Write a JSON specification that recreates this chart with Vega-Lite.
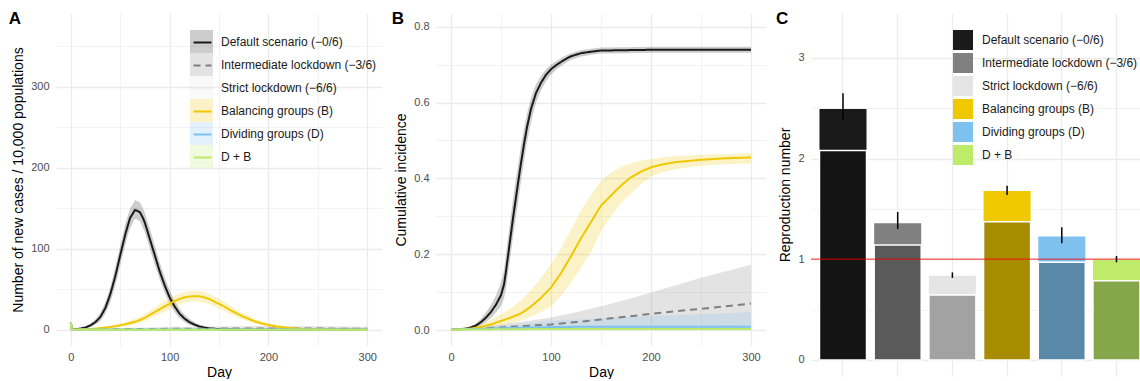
{
"$schema": "https://vega.github.io/schema/vega-lite/v6.json",
"background": "white",
"padding": {"left": 8, "top": 10, "right": 0, "bottom": 0},
"bounds": "flush",
"spacing": 54,
"datasets": {
"a": [
{"s":"def","d":0,"y":9,"lo":8,"hi":10},{"s":"def","d":1,"y":0.5,"lo":0.2,"hi":1},{"s":"def","d":5,"y":0.8,"lo":0.4,"hi":1.5},{"s":"def","d":10,"y":1.5,"lo":0.8,"hi":2.5},{"s":"def","d":15,"y":3,"lo":1.8,"hi":4.5},{"s":"def","d":20,"y":5.5,"lo":3.5,"hi":8},{"s":"def","d":25,"y":9.5,"lo":6.5,"hi":13},{"s":"def","d":30,"y":16,"lo":11,"hi":21},{"s":"def","d":35,"y":27,"lo":20,"hi":34},{"s":"def","d":40,"y":44,"lo":34,"hi":53},{"s":"def","d":45,"y":66,"lo":54,"hi":77},{"s":"def","d":50,"y":92,"lo":79,"hi":104},{"s":"def","d":55,"y":117,"lo":104,"hi":130},{"s":"def","d":58,"y":130,"lo":118,"hi":142},{"s":"def","d":60,"y":138,"lo":125,"hi":150},{"s":"def","d":63,"y":144,"lo":133,"hi":156},{"s":"def","d":65,"y":148,"lo":137,"hi":160},{"s":"def","d":67,"y":147,"lo":136,"hi":159},{"s":"def","d":70,"y":145,"lo":134,"hi":157},{"s":"def","d":73,"y":138,"lo":126,"hi":150},{"s":"def","d":75,"y":132,"lo":120,"hi":144},{"s":"def","d":78,"y":120,"lo":108,"hi":132},{"s":"def","d":80,"y":112,"lo":100,"hi":125},{"s":"def","d":85,"y":92,"lo":80,"hi":104},{"s":"def","d":90,"y":72,"lo":62,"hi":83},{"s":"def","d":95,"y":55,"lo":45,"hi":65},{"s":"def","d":100,"y":40,"lo":32,"hi":49},{"s":"def","d":105,"y":29,"lo":22,"hi":36},{"s":"def","d":110,"y":20,"lo":14.5,"hi":26},{"s":"def","d":115,"y":14,"lo":9.5,"hi":19},{"s":"def","d":120,"y":9.5,"lo":6,"hi":13.5},{"s":"def","d":125,"y":6.5,"lo":4,"hi":9.5},{"s":"def","d":130,"y":4.2,"lo":2.5,"hi":6.5},{"s":"def","d":135,"y":2.8,"lo":1.5,"hi":4.5},{"s":"def","d":140,"y":1.8,"lo":0.8,"hi":3},{"s":"def","d":145,"y":1.2,"lo":0.5,"hi":2.2},{"s":"def","d":150,"y":0.8,"lo":0.3,"hi":1.5},{"s":"def","d":160,"y":0.4,"lo":0.1,"hi":0.9},{"s":"def","d":170,"y":0.2,"lo":0,"hi":0.6},{"s":"def","d":185,"y":0.1,"lo":0,"hi":0.4},{"s":"def","d":200,"y":0.05,"lo":0,"hi":0.2},{"s":"def","d":250,"y":0,"lo":0,"hi":0.1},{"s":"def","d":300,"y":0,"lo":0,"hi":0.05},
{"s":"int","d":0,"y":9,"lo":8,"hi":10},{"s":"int","d":1,"y":0.3,"lo":0,"hi":0.8},{"s":"int","d":10,"y":0.4,"lo":0,"hi":1.2},{"s":"int","d":25,"y":0.5,"lo":0,"hi":1.5},{"s":"int","d":50,"y":0.8,"lo":0,"hi":2.2},{"s":"int","d":75,"y":1,"lo":0,"hi":2.8},{"s":"int","d":100,"y":1.2,"lo":0,"hi":3.3},{"s":"int","d":125,"y":1.4,"lo":0,"hi":3.8},{"s":"int","d":150,"y":1.6,"lo":0.1,"hi":4.2},{"s":"int","d":175,"y":1.7,"lo":0.1,"hi":4.5},{"s":"int","d":200,"y":1.7,"lo":0.1,"hi":4.6},{"s":"int","d":225,"y":1.6,"lo":0.1,"hi":4.5},{"s":"int","d":250,"y":1.5,"lo":0.1,"hi":4.3},{"s":"int","d":275,"y":1.4,"lo":0.1,"hi":4},{"s":"int","d":300,"y":1.3,"lo":0.1,"hi":3.8},
{"s":"str","d":0,"y":9,"lo":8,"hi":10},{"s":"str","d":1,"y":0.1,"lo":0,"hi":0.3},{"s":"str","d":50,"y":0.05,"lo":0,"hi":0.2},{"s":"str","d":150,"y":0.05,"lo":0,"hi":0.2},{"s":"str","d":300,"y":0.05,"lo":0,"hi":0.2},
{"s":"bal","d":0,"y":9,"lo":8,"hi":10},{"s":"bal","d":1,"y":0.3,"lo":0.1,"hi":0.6},{"s":"bal","d":5,"y":0.4,"lo":0.2,"hi":0.8},{"s":"bal","d":10,"y":0.6,"lo":0.3,"hi":1.1},{"s":"bal","d":15,"y":0.8,"lo":0.4,"hi":1.4},{"s":"bal","d":20,"y":1.1,"lo":0.6,"hi":1.8},{"s":"bal","d":25,"y":1.5,"lo":0.8,"hi":2.4},{"s":"bal","d":30,"y":2,"lo":1.1,"hi":3.1},{"s":"bal","d":35,"y":2.7,"lo":1.5,"hi":4},{"s":"bal","d":40,"y":3.5,"lo":2,"hi":5.2},{"s":"bal","d":45,"y":4.4,"lo":2.6,"hi":6.5},{"s":"bal","d":50,"y":5.5,"lo":3.4,"hi":8},{"s":"bal","d":55,"y":6.8,"lo":4.3,"hi":9.6},{"s":"bal","d":60,"y":8.3,"lo":5.4,"hi":11.5},{"s":"bal","d":65,"y":10,"lo":6.7,"hi":13.6},{"s":"bal","d":70,"y":12,"lo":8.2,"hi":16},{"s":"bal","d":75,"y":15,"lo":10.5,"hi":19.5},{"s":"bal","d":80,"y":18.5,"lo":13.5,"hi":23.5},{"s":"bal","d":85,"y":22,"lo":16.5,"hi":27.5},{"s":"bal","d":90,"y":25.5,"lo":19.5,"hi":31.5},{"s":"bal","d":95,"y":29,"lo":22.5,"hi":35.5},{"s":"bal","d":100,"y":32,"lo":25.5,"hi":38.5},{"s":"bal","d":105,"y":35.5,"lo":29,"hi":42},{"s":"bal","d":110,"y":38,"lo":31.5,"hi":44.5},{"s":"bal","d":115,"y":40,"lo":33.5,"hi":46.5},{"s":"bal","d":120,"y":41,"lo":34.5,"hi":47.5},{"s":"bal","d":125,"y":41.5,"lo":35,"hi":48},{"s":"bal","d":130,"y":41.5,"lo":35,"hi":48},{"s":"bal","d":135,"y":40,"lo":33.5,"hi":46.5},{"s":"bal","d":140,"y":38,"lo":31.5,"hi":44.5},{"s":"bal","d":145,"y":35,"lo":29,"hi":41.5},{"s":"bal","d":150,"y":32,"lo":26,"hi":38.5},{"s":"bal","d":155,"y":29,"lo":23.5,"hi":35},{"s":"bal","d":160,"y":25.5,"lo":20,"hi":31},{"s":"bal","d":165,"y":22,"lo":17,"hi":27},{"s":"bal","d":170,"y":19,"lo":14.5,"hi":23.5},{"s":"bal","d":175,"y":16,"lo":12,"hi":20},{"s":"bal","d":180,"y":13.5,"lo":10,"hi":17.5},{"s":"bal","d":185,"y":11,"lo":8,"hi":14.5},{"s":"bal","d":190,"y":9,"lo":6.5,"hi":12},{"s":"bal","d":195,"y":7.3,"lo":5,"hi":10},{"s":"bal","d":200,"y":6,"lo":4,"hi":8.5},{"s":"bal","d":205,"y":4.8,"lo":3,"hi":7},{"s":"bal","d":210,"y":3.8,"lo":2.3,"hi":5.7},{"s":"bal","d":215,"y":3,"lo":1.7,"hi":4.6},{"s":"bal","d":220,"y":2.3,"lo":1.2,"hi":3.7},{"s":"bal","d":225,"y":1.8,"lo":0.9,"hi":3},{"s":"bal","d":230,"y":1.4,"lo":0.6,"hi":2.4},{"s":"bal","d":240,"y":0.8,"lo":0.3,"hi":1.6},{"s":"bal","d":250,"y":0.5,"lo":0.1,"hi":1.1},{"s":"bal","d":260,"y":0.3,"lo":0,"hi":0.8},{"s":"bal","d":280,"y":0.1,"lo":0,"hi":0.4},{"s":"bal","d":300,"y":0.05,"lo":0,"hi":0.2},
{"s":"div","d":0,"y":9,"lo":8,"hi":10},{"s":"div","d":1,"y":0.2,"lo":0,"hi":0.6},{"s":"div","d":50,"y":0.25,"lo":0,"hi":0.8},{"s":"div","d":100,"y":0.3,"lo":0,"hi":1},{"s":"div","d":200,"y":0.3,"lo":0,"hi":1},{"s":"div","d":300,"y":0.3,"lo":0,"hi":1},
{"s":"db","d":0,"y":9,"lo":8,"hi":10},{"s":"db","d":1,"y":0.1,"lo":0,"hi":0.4},{"s":"db","d":50,"y":0.1,"lo":0,"hi":0.5},{"s":"db","d":150,"y":0.12,"lo":0,"hi":0.5},{"s":"db","d":300,"y":0.1,"lo":0,"hi":0.5}
],
"b": [
{"s":"def","d":0,"y":0.001,"lo":0.001,"hi":0.001},{"s":"def","d":10,"y":0.002,"lo":0.001,"hi":0.003},{"s":"def","d":15,"y":0.004,"lo":0.002,"hi":0.006},{"s":"def","d":20,"y":0.007,"lo":0.004,"hi":0.011},{"s":"def","d":25,"y":0.012,"lo":0.007,"hi":0.018},{"s":"def","d":30,"y":0.021,"lo":0.012,"hi":0.03},{"s":"def","d":35,"y":0.033,"lo":0.021,"hi":0.047},{"s":"def","d":40,"y":0.048,"lo":0.032,"hi":0.067},{"s":"def","d":45,"y":0.067,"lo":0.046,"hi":0.092},{"s":"def","d":50,"y":0.092,"lo":0.063,"hi":0.125},{"s":"def","d":53,"y":0.12,"lo":0.083,"hi":0.16},{"s":"def","d":55,"y":0.155,"lo":0.11,"hi":0.2},{"s":"def","d":57,"y":0.195,"lo":0.148,"hi":0.243},{"s":"def","d":60,"y":0.255,"lo":0.205,"hi":0.305},{"s":"def","d":62,"y":0.295,"lo":0.245,"hi":0.345},{"s":"def","d":65,"y":0.35,"lo":0.3,"hi":0.4},{"s":"def","d":68,"y":0.405,"lo":0.355,"hi":0.452},{"s":"def","d":70,"y":0.44,"lo":0.392,"hi":0.486},{"s":"def","d":73,"y":0.49,"lo":0.445,"hi":0.53},{"s":"def","d":76,"y":0.535,"lo":0.495,"hi":0.57},{"s":"def","d":80,"y":0.583,"lo":0.548,"hi":0.613},{"s":"def","d":85,"y":0.625,"lo":0.6,"hi":0.648},{"s":"def","d":90,"y":0.652,"lo":0.632,"hi":0.67},{"s":"def","d":95,"y":0.673,"lo":0.656,"hi":0.688},{"s":"def","d":100,"y":0.688,"lo":0.674,"hi":0.7},{"s":"def","d":107,"y":0.702,"lo":0.69,"hi":0.712},{"s":"def","d":115,"y":0.715,"lo":0.705,"hi":0.724},{"s":"def","d":120,"y":0.722,"lo":0.713,"hi":0.73},{"s":"def","d":130,"y":0.73,"lo":0.721,"hi":0.738},{"s":"def","d":140,"y":0.734,"lo":0.726,"hi":0.742},{"s":"def","d":150,"y":0.737,"lo":0.729,"hi":0.745},{"s":"def","d":175,"y":0.738,"lo":0.73,"hi":0.746},{"s":"def","d":200,"y":0.739,"lo":0.731,"hi":0.747},{"s":"def","d":300,"y":0.739,"lo":0.731,"hi":0.747},
{"s":"int","d":0,"y":0.001,"lo":0.001,"hi":0.001},{"s":"int","d":25,"y":0.004,"lo":0.001,"hi":0.008},{"s":"int","d":50,"y":0.007,"lo":0.001,"hi":0.015},{"s":"int","d":75,"y":0.011,"lo":0.002,"hi":0.023},{"s":"int","d":100,"y":0.015,"lo":0.002,"hi":0.033},{"s":"int","d":125,"y":0.021,"lo":0.003,"hi":0.047},{"s":"int","d":150,"y":0.028,"lo":0.003,"hi":0.063},{"s":"int","d":175,"y":0.035,"lo":0.003,"hi":0.08},{"s":"int","d":200,"y":0.043,"lo":0.003,"hi":0.099},{"s":"int","d":225,"y":0.05,"lo":0.004,"hi":0.118},{"s":"int","d":250,"y":0.056,"lo":0.004,"hi":0.138},{"s":"int","d":275,"y":0.063,"lo":0.004,"hi":0.155},{"s":"int","d":300,"y":0.07,"lo":0.004,"hi":0.172},
{"s":"str","d":0,"y":0.001,"lo":0.001,"hi":0.001},{"s":"str","d":50,"y":0.0015,"lo":0.001,"hi":0.003},{"s":"str","d":100,"y":0.002,"lo":0.001,"hi":0.004},{"s":"str","d":300,"y":0.002,"lo":0.001,"hi":0.004},
{"s":"bal","d":0,"y":0.001,"lo":0.001,"hi":0.001},{"s":"bal","d":10,"y":0.002,"lo":0.001,"hi":0.003},{"s":"bal","d":20,"y":0.004,"lo":0.002,"hi":0.007},{"s":"bal","d":30,"y":0.008,"lo":0.004,"hi":0.014},{"s":"bal","d":40,"y":0.015,"lo":0.007,"hi":0.027},{"s":"bal","d":50,"y":0.024,"lo":0.012,"hi":0.042},{"s":"bal","d":60,"y":0.033,"lo":0.017,"hi":0.058},{"s":"bal","d":70,"y":0.044,"lo":0.025,"hi":0.078},{"s":"bal","d":80,"y":0.062,"lo":0.035,"hi":0.105},{"s":"bal","d":90,"y":0.085,"lo":0.048,"hi":0.137},{"s":"bal","d":100,"y":0.112,"lo":0.062,"hi":0.174},{"s":"bal","d":110,"y":0.15,"lo":0.09,"hi":0.215},{"s":"bal","d":120,"y":0.195,"lo":0.125,"hi":0.265},{"s":"bal","d":130,"y":0.242,"lo":0.165,"hi":0.315},{"s":"bal","d":140,"y":0.285,"lo":0.205,"hi":0.356},{"s":"bal","d":150,"y":0.328,"lo":0.262,"hi":0.394},{"s":"bal","d":160,"y":0.355,"lo":0.3,"hi":0.415},{"s":"bal","d":170,"y":0.381,"lo":0.335,"hi":0.43},{"s":"bal","d":180,"y":0.403,"lo":0.36,"hi":0.44},{"s":"bal","d":190,"y":0.418,"lo":0.385,"hi":0.447},{"s":"bal","d":200,"y":0.429,"lo":0.405,"hi":0.451},{"s":"bal","d":210,"y":0.436,"lo":0.415,"hi":0.455},{"s":"bal","d":225,"y":0.443,"lo":0.425,"hi":0.459},{"s":"bal","d":250,"y":0.449,"lo":0.433,"hi":0.462},{"s":"bal","d":275,"y":0.453,"lo":0.437,"hi":0.464},{"s":"bal","d":300,"y":0.455,"lo":0.439,"hi":0.466},
{"s":"div","d":0,"y":0.001,"lo":0.001,"hi":0.001},{"s":"div","d":25,"y":0.003,"lo":0.001,"hi":0.006},{"s":"div","d":50,"y":0.005,"lo":0.001,"hi":0.012},{"s":"div","d":100,"y":0.008,"lo":0.002,"hi":0.024},{"s":"div","d":150,"y":0.009,"lo":0.002,"hi":0.031},{"s":"div","d":200,"y":0.009,"lo":0.002,"hi":0.037},{"s":"div","d":250,"y":0.009,"lo":0.002,"hi":0.042},{"s":"div","d":300,"y":0.009,"lo":0.002,"hi":0.047},
{"s":"db","d":0,"y":0.001,"lo":0.001,"hi":0.001},{"s":"db","d":50,"y":0.002,"lo":0.001,"hi":0.004},{"s":"db","d":100,"y":0.003,"lo":0.001,"hi":0.006},{"s":"db","d":300,"y":0.003,"lo":0.001,"hi":0.006}
],
"c": [
{"k":"def","r":2.493,"r2":2.08,"lo":2.38,"hi":2.65},
{"k":"int","r":1.358,"r2":1.142,"lo":1.30,"hi":1.47},
{"k":"str","r":0.838,"r2":0.646,"lo":0.815,"hi":0.87},
{"k":"bal","r":1.679,"r2":1.374,"lo":1.64,"hi":1.73},
{"k":"div","r":1.228,"r2":0.97,"lo":1.159,"hi":1.318},
{"k":"db","r":0.997,"r2":0.788,"lo":0.97,"hi":1.033}
]
},
"hconcat": [
{
"width": 326, "height": 333,
"title": {"text": "A", "anchor": "start", "frame": "bounds", "fontSize": 17, "fontWeight": "bold", "offset": -28, "dx": -3, "baseline": "alphabetic", "color": "#000000"},
"data": {"name": "a"},
"encoding": {
"x": {"field": "d", "type": "quantitative", "title": "Day", "scale": {"domain": [-15, 315], "nice": false, "zero": false},
"axis": {"values": [0, 50, 100, 150, 200, 250, 300], "labelExpr": "datum.value % 100 == 0 ? datum.label : ''", "gridWidth": {"condition": {"test": "datum.value % 100 == 0", "value": 1.3}, "value": 0.6}}}
},
"layer": [
{"mark": {"type": "area", "opacity": 0.22},
"encoding": {
"y": {"field": "lo", "type": "quantitative", "stack": null, "title": "Number of new cases / 10,000 populations", "scale": {"domain": [-20, 391], "nice": false, "zero": false},
"axis": {"values": [0, 50, 100, 150, 200, 250, 300, 350], "labelExpr": "datum.value % 100 == 0 ? datum.label : ''", "gridWidth": {"condition": {"test": "datum.value % 100 == 0", "value": 1.3}, "value": 0.6}}},
"y2": {"field": "hi"},
"fill": {"field": "s", "type": "nominal",
"scale": {"domain": ["def", "int", "str", "bal", "div", "db"], "range": ["#1a1a1a", "#7f7f7f", "#e5e5e5", "#efc800", "#7cc0ef", "#b9ea6a"]},
"legend": {"orient": "none", "legendX": 134, "legendY": 17, "title": null, "symbolType": "square", "symbolSize": 529, "symbolOpacity": 0.22, "symbolStrokeWidth": 0, "rowPadding": 0, "labelOffset": 8, "labelFontSize": 12, "labelColor": "#1a1a1a",
"labelExpr": "datum.label == 'def' ? 'Default scenario (−0/6)' : datum.label == 'int' ? 'Intermediate lockdown (−3/6)' : datum.label == 'str' ? 'Strict lockdown (−6/6)' : datum.label == 'bal' ? 'Balancing groups (B)' : datum.label == 'div' ? 'Dividing groups (D)' : 'D + B'"}}
}},
{"mark": {"type": "line", "strokeWidth": 2},
"encoding": {
"y": {"field": "y", "type": "quantitative", "title": "Number of new cases / 10,000 populations", "scale": {"domain": [-20, 391], "nice": false, "zero": false}},
"stroke": {"field": "s", "type": "nominal",
"scale": {"domain": ["def", "int", "str", "bal", "div", "db"], "range": ["#1a1a1a", "#7f7f7f", "#e5e5e5", "#efc800", "#7cc0ef", "#b9ea6a"]},
"legend": {"orient": "none", "legendX": 134, "legendY": 17, "title": null, "symbolType": "M-0.78,0H0.78", "symbolSize": 529, "symbolStrokeWidth": 2, "rowPadding": 4, "labelOffset": 8, "labelFontSize": 12, "labelExpr": "''"}},
"strokeDash": {"field": "s", "type": "nominal",
"scale": {"domain": ["def", "int", "str", "bal", "div", "db"], "range": [[1, 0], [7, 5], [1, 3], [1, 0], [1, 0], [1, 0]]}}
}}
],
"resolve": {"legend": {"fill": "independent", "stroke": "independent", "strokeDash": "independent"}}
},
{
"bounds": "flush",
"spacing": 45,
"hconcat": [
{
"width": 330, "height": 333,
"title": {"text": "B", "anchor": "start", "frame": "bounds", "fontSize": 17, "fontWeight": "bold", "offset": -28, "dx": -3, "baseline": "alphabetic", "color": "#000000"},
"data": {"name": "b"},
"encoding": {
"x": {"field": "d", "type": "quantitative", "title": "Day", "scale": {"domain": [-15, 315], "nice": false, "zero": false},
"axis": {"values": [0, 50, 100, 150, 200, 250, 300], "labelExpr": "datum.value % 100 == 0 ? datum.label : ''", "gridWidth": {"condition": {"test": "datum.value % 100 == 0", "value": 1.3}, "value": 0.6}}}
},
"layer": [
{"mark": {"type": "area", "opacity": 0.22},
"encoding": {
"y": {"field": "lo", "type": "quantitative", "stack": null, "title": "Cumulative incidence", "scale": {"domain": [-0.042, 0.836], "nice": false, "zero": false},
"axis": {"values": [0, 0.1, 0.2, 0.3, 0.4, 0.5, 0.6, 0.7, 0.8], "labelExpr": "round(datum.value * 10) % 2 == 0 ? format(datum.value, '.1f') : ''", "gridWidth": {"condition": {"test": "round(datum.value * 10) % 2 == 0", "value": 1.3}, "value": 0.6}}},
"y2": {"field": "hi"},
"fill": {"field": "s", "type": "nominal", "legend": null,
"scale": {"domain": ["def", "int", "str", "bal", "div", "db"], "range": ["#1a1a1a", "#7f7f7f", "#e5e5e5", "#efc800", "#7cc0ef", "#b9ea6a"]}}
}},
{"mark": {"type": "line", "strokeWidth": 2},
"encoding": {
"y": {"field": "y", "type": "quantitative", "title": "Cumulative incidence", "scale": {"domain": [-0.042, 0.836], "nice": false, "zero": false}},
"stroke": {"field": "s", "type": "nominal", "legend": null,
"scale": {"domain": ["def", "int", "str", "bal", "div", "db"], "range": ["#1a1a1a", "#7f7f7f", "#e5e5e5", "#efc800", "#7cc0ef", "#b9ea6a"]}},
"strokeDash": {"field": "s", "type": "nominal", "legend": null,
"scale": {"domain": ["def", "int", "str", "bal", "div", "db"], "range": [[1, 0], [7, 5], [1, 3], [1, 0], [1, 0], [1, 0]]}}
}}
]
},
{
"width": 329, "height": 363,
"title": {"text": "C", "anchor": "start", "frame": "bounds", "fontSize": 17, "fontWeight": "bold", "offset": -28, "dx": -3, "baseline": "alphabetic", "color": "#000000"},
"data": {"name": "c"},
"layer": [
{"mark": {"type": "bar"},
"encoding": {
"x": {"field": "k", "type": "nominal", "title": null,
"scale": {"domain": ["def", "int", "str", "bal", "div", "db"], "paddingInner": 0.14, "paddingOuter": 0.0775, "align": 1},
"axis": {"labels": false, "ticks": false, "domain": false, "grid": true, "bandPosition": 0.5, "gridWidth": 1.3}},
"y": {"field": "r", "type": "quantitative", "stack": null, "title": "Reproduction number", "scale": {"domain": [-0.159, 3.447], "nice": false, "zero": false},
"axis": {"values": [0, 0.5, 1, 1.5, 2, 2.5, 3], "labelExpr": "datum.value % 1 == 0 ? format(datum.value, '.0f') : ''", "gridWidth": {"condition": {"test": "datum.value % 1 == 0", "value": 1.3}, "value": 0.6}}},
"y2": {"datum": 0},
"fill": {"field": "k", "type": "nominal",
"scale": {"domain": ["def", "int", "str", "bal", "div", "db"], "range": ["#1a1a1a", "#808080", "#e5e5e5", "#f0c800", "#7ec0ee", "#bfeb6b"]},
"legend": {"orient": "none", "legendX": 142, "legendY": 17, "title": null, "symbolType": "square", "symbolSize": 400, "symbolStrokeWidth": 0, "rowPadding": 3, "labelOffset": 9, "labelFontSize": 12, "labelColor": "#1a1a1a",
"labelExpr": "datum.label == 'def' ? 'Default scenario (−0/6)' : datum.label == 'int' ? 'Intermediate lockdown (−3/6)' : datum.label == 'str' ? 'Strict lockdown (−6/6)' : datum.label == 'bal' ? 'Balancing groups (B)' : datum.label == 'div' ? 'Dividing groups (D)' : 'D + B'"}}
}},
{"mark": {"type": "bar", "stroke": "white", "strokeWidth": 1.5},
"encoding": {
"x": {"field": "k", "type": "nominal", "title": null},
"y": {"field": "r2", "type": "quantitative", "stack": null, "title": "Reproduction number", "scale": {"domain": [-0.159, 3.447], "nice": false, "zero": false}},
"y2": {"datum": 0},
"fill": {"field": "k", "type": "nominal", "legend": null,
"scale": {"domain": ["def", "int", "str", "bal", "div", "db"], "range": ["#141414", "#5a5a5a", "#a2a2a2", "#a88c00", "#5a88a8", "#86a64b"]}}
}},
{"mark": {"type": "rule", "color": "#ff0000", "opacity": 0.35, "strokeOpacity": 0.35, "strokeWidth": 1.5},
"encoding": {"y": {"datum": 1}}},
{"mark": {"type": "rule", "color": "#000000", "strokeWidth": 1.5},
"encoding": {
"x": {"field": "k", "type": "nominal", "title": null},
"y": {"field": "lo", "type": "quantitative", "title": "Reproduction number", "scale": {"domain": [-0.159, 3.447], "nice": false, "zero": false}},
"y2": {"field": "hi"}
}}
],
"resolve": {"scale": {"fill": "independent"}, "legend": {"fill": "independent"}}
}
]
}
],
"config": {
"font": "Liberation Sans",
"view": {"stroke": null},
"axis": {"domain": false, "ticks": false, "labelFont": "Liberation Sans", "labelFontSize": 11, "labelColor": "#4d4d4d", "titleFont": "Liberation Sans", "titleFontSize": 14, "titleFontWeight": "normal", "titleColor": "#000000", "gridColor": "#ebebeb"},
"axisX": {"labelPadding": 5, "titlePadding": 3},
"axisY": {"labelPadding": 7, "titlePadding": 5},
"legend": {"labelFont": "Liberation Sans", "padding": 0}
}
}
